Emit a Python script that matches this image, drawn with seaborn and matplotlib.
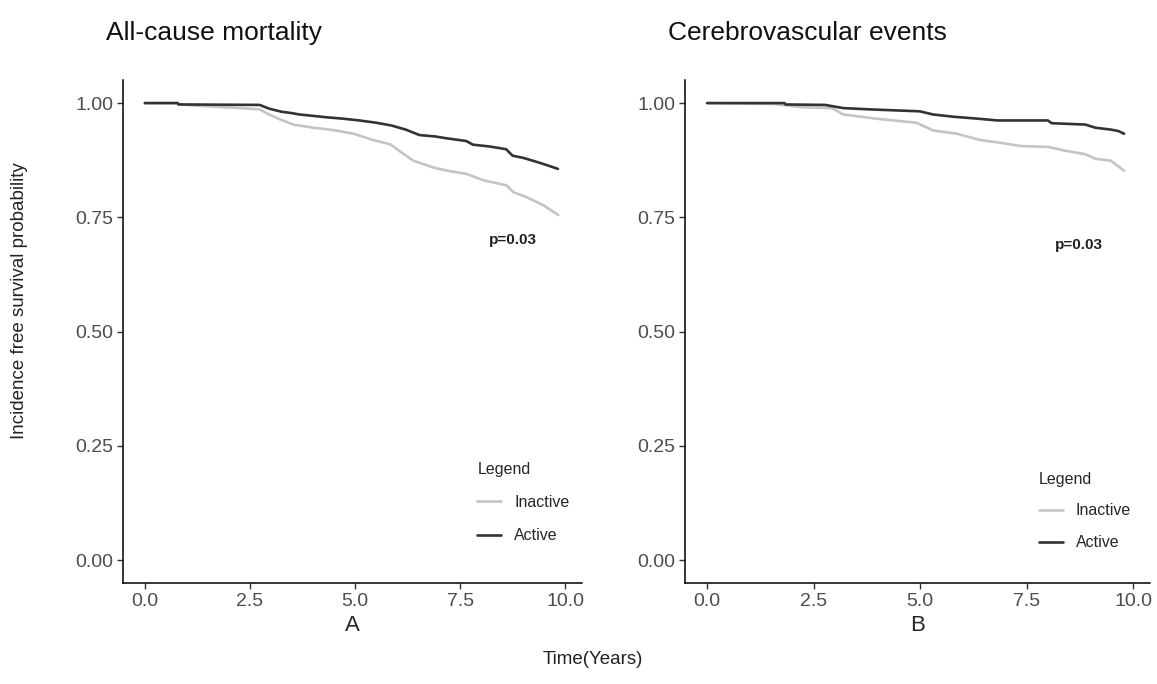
import numpy as np
import pandas as pd
import matplotlib
matplotlib.use("Agg")
import matplotlib.pyplot as plt
import seaborn as sns

# survival curves (time in years, survival probability)
a_active_t = [0, 0.78, 0.80, 2.73, 2.95, 3.25, 3.5, 3.68, 4.0, 4.31, 4.7, 5.1, 5.5, 5.86, 6.2,
              6.53, 6.9, 7.17, 7.64, 7.8, 8.2, 8.59, 8.74, 9.0, 9.22, 9.5, 9.82]
a_active_s = [1.0, 1.0, 0.997, 0.996, 0.988, 0.981, 0.978, 0.975, 0.972, 0.969, 0.966, 0.962,
              0.957, 0.951, 0.942, 0.930, 0.927, 0.923, 0.917, 0.909, 0.905, 0.899, 0.885,
              0.880, 0.874, 0.866, 0.856]
a_inactive_t = [0, 0.78, 0.80, 1.87, 2.3, 2.74, 2.95, 3.22, 3.53, 4.01, 4.48, 4.96, 5.2, 5.43,
                5.83, 6.1, 6.38, 6.86, 7.2, 7.65, 8.05, 8.3, 8.6, 8.76, 9.0, 9.24, 9.5, 9.83]
a_inactive_s = [1.0, 1.0, 0.997, 0.991, 0.989, 0.986, 0.975, 0.964, 0.953, 0.946, 0.941, 0.933,
                0.926, 0.919, 0.910, 0.892, 0.874, 0.859, 0.852, 0.845, 0.831, 0.826, 0.820,
                0.805, 0.797, 0.787, 0.775, 0.755]

b_active_t = [0, 1.82, 1.84, 2.77, 3.2, 3.88, 4.99, 5.31, 5.8, 6.34, 6.82, 8.0, 8.09, 8.88,
              9.12, 9.48, 9.65, 9.79]
b_active_s = [1.0, 1.0, 0.997, 0.996, 0.989, 0.986, 0.982, 0.975, 0.970, 0.966, 0.962, 0.962,
              0.956, 0.953, 0.946, 0.942, 0.939, 0.933]
b_inactive_t = [0, 1.58, 2.21, 2.93, 3.2, 3.96, 4.91, 5.31, 5.86, 6.42, 6.82, 7.37, 8.01, 8.4,
                8.88, 9.12, 9.48, 9.65, 9.79]
b_inactive_s = [1.0, 0.998, 0.991, 0.989, 0.975, 0.966, 0.957, 0.940, 0.933, 0.919, 0.914,
                0.906, 0.904, 0.896, 0.888, 0.878, 0.874, 0.862, 0.852]

titles = ["All-cause mortality", "Cerebrovascular events"]
panel_labels = ["A", "B"]
p_values = ["p=0.03", "p=0.03"]
groups = ["Inactive", "Active"]
x_ticks = [0.0, 2.5, 5.0, 7.5, 10.0]
y_ticks = [0.00, 0.25, 0.50, 0.75, 1.00]


def long_df(act_t, act_s, ina_t, ina_s):
    d1 = pd.DataFrame({"time": ina_t, "surv": ina_s, "Legend": "Inactive"})
    d2 = pd.DataFrame({"time": act_t, "surv": act_s, "Legend": "Active"})
    return pd.concat([d1, d2], ignore_index=True)


panels = [long_df(a_active_t, a_active_s, a_inactive_t, a_inactive_s),
          long_df(b_active_t, b_active_s, b_inactive_t, b_inactive_s)]

sns.set_theme(style="white")
plt.rcParams["font.family"] = ["Liberation Sans", "DejaVu Sans"]

fig = plt.figure(figsize=(11.57, 6.84), dpi=100)
ax_pos = [[0.1063, 0.1477, 0.397, 0.735], [0.592, 0.1477, 0.402, 0.735]]
p_pos = [(8.75, 0.70), (8.72, 0.69)]
leg_pos = [(0.74, 0.27), (0.73, 0.25)]
leg_space = [1.15, 1.05]
title_x = [0.092, 0.577]
palette = {"Inactive": "#c4c4c4", "Active": "#333333"}

for i, df in enumerate(panels):
    ax = fig.add_axes(ax_pos[i])
    sns.lineplot(data=df, x="time", y="surv", hue="Legend", hue_order=groups, palette=palette,
                 estimator=None, sort=False, linewidth=1.9, ax=ax)
    ax.set_xlim(-0.52, 10.4)
    ax.set_ylim(-0.05, 1.05)
    ax.set_xticks(x_ticks)
    ax.set_xticklabels([f"{v:.1f}" for v in x_ticks])
    ax.set_yticks(y_ticks)
    ax.set_yticklabels([f"{v:.2f}" for v in y_ticks])
    ax.tick_params(axis="both", which="both", length=4, width=1, color="#333333",
                   labelsize=14, labelcolor="#4d4d4d", bottom=True, left=True, pad=3)
    for s in ["top", "right"]:
        ax.spines[s].set_visible(False)
    for s in ["left", "bottom"]:
        ax.spines[s].set_color("black")
        ax.spines[s].set_linewidth(1.1)
    ax.set_ylabel("")
    ax.set_xlabel(panel_labels[i], fontsize=16, labelpad=4)
    ax.text(p_pos[i][0], p_pos[i][1], p_values[i], fontsize=11, fontweight="bold",
            ha="center", va="center", color="#222222")
    sns.move_legend(ax, "upper left", bbox_to_anchor=leg_pos[i], frameon=False,
                    title="Legend", fontsize=11.5, title_fontsize=11.5,
                    labelspacing=leg_space[i], handlelength=1.5, alignment="left")
    fig.text(title_x[i], 1 - 40 / 684, titles[i], fontsize=19, ha="left", va="baseline",
             color="#111111")

fig.text(0.017, 0.56, "Incidence free survival probability", rotation=90, fontsize=13.5,
         ha="center", va="center", color="#222222")
fig.text(0.512, 0.036, "Time(Years)", fontsize=13.5, ha="center", va="center", color="#222222")

fig.savefig("out.png", dpi=100)
